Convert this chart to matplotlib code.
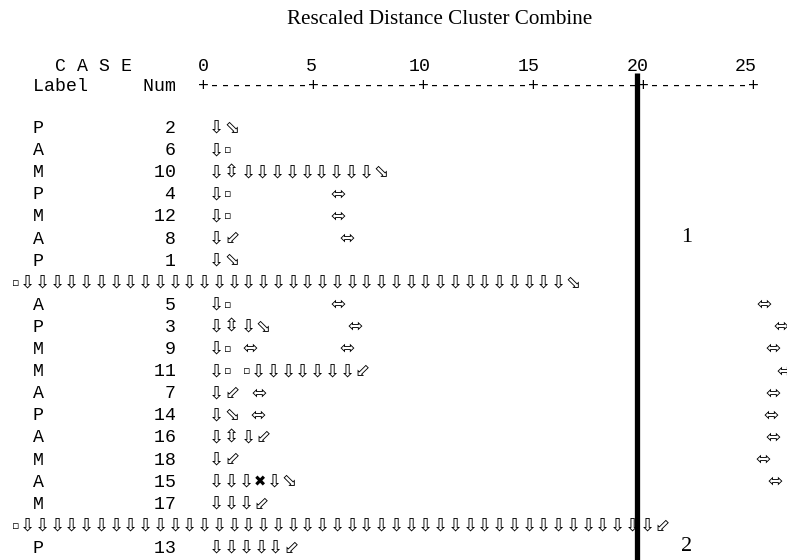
import matplotlib
matplotlib.use("Agg")
import matplotlib.pyplot as plt

# SPSS dendrogram output, with its line-drawing characters shown as arrow glyphs
title = "Rescaled Distance Cluster Combine"
ticks = [0, 5, 10, 15, 20, 25]
cut_distance = 20

labels = ["P", "A", "M", "P", "M", "A", "P", "", "A", "P",
          "M", "M", "A", "P", "A", "M", "A", "M", "", "P"]
nums = [2, 6, 10, 4, 12, 8, 1, None, 5, 3,
        9, 11, 7, 14, 16, 18, 15, 17, None, 13]
branches = [
    "⇩⬂",
    "⇩▫",
    "⇩⇳" + "⇩" * 9 + "⬂",
    "⇩▫" + " " * 9 + "⬄",
    "⇩▫" + " " * 9 + "⬄",
    "⇩⬃" + " " * 9 + "⬄",
    "⇩⬂",
    "▫" + "⇩" * 37 + "⬂",
    "⇩▫" + " " * 9 + "⬄" + " " * 37 + "⬄",
    "⇩⇳⇩⬂" + " " * 7 + "⬄" + " " * 37 + "⬄",
    "⇩▫ ⬄" + " " * 7 + "⬄" + " " * 37 + "⬄",
    "⇩▫ ▫" + "⇩" * 7 + "⬃" + " " * 37 + "⬄",
    "⇩⬃ ⬄" + " " * 45 + "⬄",
    "⇩⬂ ⬄" + " " * 45 + "⬄",
    "⇩⇳⇩⬃" + " " * 45 + "⬄",
    "⇩⬃" + " " * 47 + "⬄",
    "⇩⇩⇩✖⇩⬂" + " " * 43 + "⬄",
    "⇩⇩⇩⬃",
    "▫" + "⇩" * 43 + "⬃",
    "⇩⇩⇩⇩⇩⬃",
]
clusters = {"1": 5, "2": 19}   # cluster number -> row it is written on

# layout (pixels of the 787x560 picture)
PX_UNIT = 21.72      # px per unit of rescaled distance
X0 = 203             # px of distance 0
ROW0 = 127           # px of first case row
ROW_H = 22.1         # px between rows
MONO = 10.96         # advance of one mono character
COL0 = 32.5          # px where column 0 of the listing starts
advance = {"⇩": 14.75, "⇳": 16.5, "⬂": 15.3, "⬃": 16.8, "▫": 8.0,
           "⬄": 20.3, "✖": 13.0}
glyph_scale = {"▫": 0.6, "✖": 0.8}
glyph_lift = {"▫": 2.0}

mono = "Liberation Mono"
glyph_font = ["DejaVu Sans"]
fs = 13.15


def xd(px):
    return (px - X0) / PX_UNIT


def yd(px):
    return (px - ROW0) / ROW_H


fig = plt.figure(figsize=(7.87, 5.6), dpi=100)
ax = fig.add_axes([0, 0, 1, 1])
ax.set_xlim(xd(0), xd(787))
ax.set_ylim(yd(560), yd(0))
ax.axis("off")

base = 6 / ROW_H     # caps centre -> baseline

ax.text(xd(440), yd(19), title, ha="center", va="center",
        family="Liberation Serif", fontsize=15.2)
ax.text(xd(55), yd(65) + base, "C A S E", ha="left", va="baseline",
        family=mono, fontsize=fs)
for t in ticks:
    ax.text(t, yd(65) + base, str(t), ha="center", va="baseline",
            family=mono, fontsize=fs)
ruler = "Label     Num  " + "+" + "---------+" * 5
ax.text(xd(33.3), yd(85) + base, ruler, ha="left", va="baseline",
        family=mono, fontsize=fs)

for i, (lab, num, br) in enumerate(zip(labels, nums, branches)):
    if num is not None:
        ax.text(xd(33.3), i + base, f"{lab:<10}{num:>3}", ha="left",
                va="baseline", family=mono, fontsize=fs)
        x = COL0 + 16 * MONO
    else:
        x = COL0 - 2 * MONO
    for ch in br:
        if ch != " ":
            ax.text(xd(x + 1.4), i + base - glyph_lift.get(ch, 0) / ROW_H, ch,
                    ha="left", va="baseline", family=glyph_font,
                    fontsize=fs * glyph_scale.get(ch, 1.0))
        x += advance.get(ch, MONO)

ax.plot([cut_distance, cut_distance], [yd(73), yd(560)], color="black",
        lw=3.8, solid_capstyle="butt", zorder=5)

for name, row in clusters.items():
    ax.text(22.25, row, name, ha="center", va="center",
            family="Liberation Serif", fontsize=16)

fig.savefig("out.png")
